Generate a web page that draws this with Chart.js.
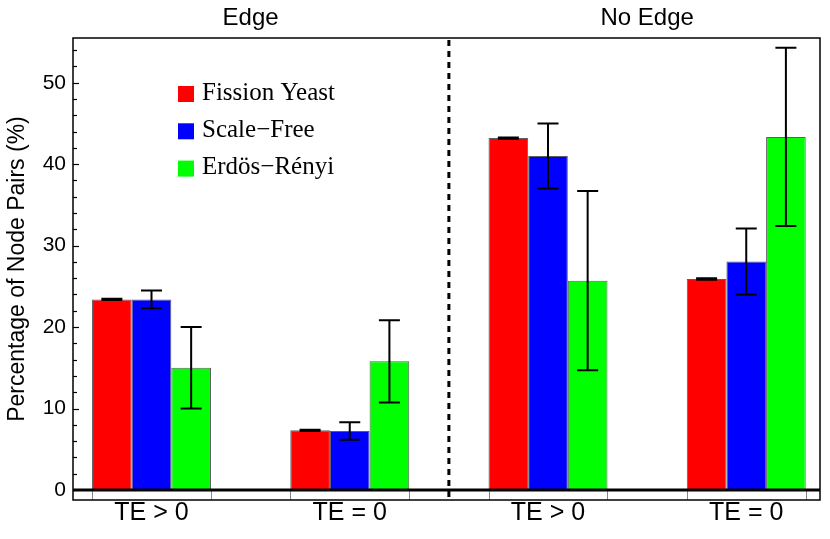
<!DOCTYPE html>
<html>
<head>
<meta charset="utf-8">
<script src="https://cdn.jsdelivr.net/npm/chart.js@4/dist/chart.umd.min.js"></script>
<style>
  html, body { margin: 0; padding: 0; background: #ffffff; }
  #wrap { width: 830px; height: 539px; }
</style>
</head>
<body>
<div id="wrap"><canvas id="c" width="830" height="539"></canvas></div>
<script>
// ---- Data ----
const categories = ['TE > 0', 'TE = 0', 'TE > 0', 'TE = 0'];
const sectionTitles = ['Edge', 'No Edge'];
const seriesNames = ['Fission Yeast', 'Scale\u2212Free', 'Erd\u00f6s\u2212R\u00e9nyi'];
const fissionYeast = [23.4, 7.32, 43.2, 25.9];
const scaleFree = [23.4, 7.25, 41.0, 28.05];
const erdosRenyi = [15.0, 15.8, 25.7, 43.35];
const fissionYeastErr = [0.08, 0.08, 0.08, 0.08];
const scaleFreeErr = [1.1, 1.08, 4.0, 4.05];
const erdosRenyiErr = [5.0, 5.05, 11.0, 10.95];
const yTickValues = [0, 10, 20, 30, 40, 50];
const yAxisTitle = 'Percentage of Node Pairs (%)';

const seriesValues = [fissionYeast, scaleFree, erdosRenyi];
const seriesErrors = [fissionYeastErr, scaleFreeErr, erdosRenyiErr];
const seriesColors = ['#ff0000', '#0000ff', '#00ff00'];

const datasets = seriesValues.map((vals, s) => ({
  label: seriesNames[s],
  data: vals.map((v, i) => ({ x: i + 1, y: v })),
  errors: seriesErrors[s],
  backgroundColor: seriesColors[s],
  borderColor: 'rgba(40,40,40,0.75)',
  borderWidth: 1,
  categoryPercentage: 0.6,
  barPercentage: 1.0
}));

const SANS = '"Liberation Sans", Arial, Helvetica, sans-serif';
const SERIF = '"Liberation Serif", "Times New Roman", serif';

const decorPlugin = {
  id: 'decor',
  afterDatasetsDraw(chart) {
    const ctx = chart.ctx;
    const xS = chart.scales.x, yS = chart.scales.y;
    const area = chart.chartArea;
    ctx.save();
    // error bars
    ctx.strokeStyle = '#000';
    ctx.lineWidth = 2;
    chart.data.datasets.forEach((ds, d) => {
      const meta = chart.getDatasetMeta(d);
      meta.data.forEach((bar, i) => {
        const v = ds.data[i].y, e = ds.errors[i];
        const yt = yS.getPixelForValue(v + e);
        const yb = yS.getPixelForValue(v - e);
        const cx = bar.x, hw = 10.5;
        ctx.beginPath();
        ctx.moveTo(cx, yt); ctx.lineTo(cx, yb);
        ctx.moveTo(cx - hw, yt); ctx.lineTo(cx + hw, yt);
        ctx.moveTo(cx - hw, yb); ctx.lineTo(cx + hw, yb);
        ctx.stroke();
      });
    });
    // group edge ticks between zero line and frame bottom
    const y0 = yS.getPixelForValue(0);
    const firstMeta = chart.getDatasetMeta(0);
    const lastMeta = chart.getDatasetMeta(chart.data.datasets.length - 1);
    ctx.strokeStyle = '#888';
    ctx.lineWidth = 1;
    firstMeta.data.forEach((bar, i) => {
      const l = bar.x - bar.width / 2;
      const r = lastMeta.data[i].x + lastMeta.data[i].width / 2;
      [l, r].forEach(px => {
        ctx.beginPath();
        ctx.moveTo(Math.round(px) + 0.5, y0);
        ctx.lineTo(Math.round(px) + 0.5, area.bottom);
        ctx.stroke();
      });
    });
    // zero line
    ctx.strokeStyle = '#000';
    ctx.lineWidth = 3;
    ctx.beginPath();
    ctx.moveTo(area.left, y0); ctx.lineTo(area.right, y0);
    ctx.stroke();
    // dashed separator
    const xm = xS.getPixelForValue((categories.length + 1) / 2);
    ctx.lineWidth = 3;
    ctx.setLineDash([6, 5]);
    ctx.beginPath();
    ctx.moveTo(xm, area.top + 2); ctx.lineTo(xm, area.bottom);
    ctx.stroke();
    ctx.setLineDash([]);
    // y ticks (inward)
    ctx.lineWidth = 1.2;
    for (let v = 0; v <= yS.max; v += 2) {
      const py = Math.round(yS.getPixelForValue(v)) + 0.5;
      const len = (v % 10 === 0) ? 6 : 4;
      ctx.beginPath();
      ctx.moveTo(area.left, py); ctx.lineTo(area.left + len, py);
      ctx.stroke();
    }
    // frame
    ctx.lineWidth = 1.5;
    ctx.strokeStyle = '#000';
    ctx.strokeRect(area.left, area.top, area.right - area.left, area.bottom - area.top);
    // section titles
    ctx.fillStyle = '#000';
    ctx.font = '24px ' + SANS;
    ctx.textAlign = 'center';
    ctx.textBaseline = 'alphabetic';
    sectionTitles.forEach((t, k) => {
      const cx = (xS.getPixelForValue(2 * k + 1) + xS.getPixelForValue(2 * k + 2)) / 2;
      ctx.fillText(t, cx, 25);
    });
    // legend
    ctx.textAlign = 'left';
    ctx.textBaseline = 'middle';
    ctx.font = '25px ' + SERIF;
    chart.data.datasets.forEach((ds, d) => {
      const rowY = area.top + 56 + d * 37.3;
      const sx = area.left + 105;
      ctx.fillStyle = ds.backgroundColor;
      ctx.fillRect(sx, rowY - 8, 16, 16);
      ctx.fillStyle = '#000';
      ctx.fillText(ds.label, sx + 24, rowY - 1);
    });
    ctx.restore();
  }
};

new Chart(document.getElementById('c'), {
  type: 'bar',
  data: { datasets },
  options: {
    responsive: false,
    animation: false,
    devicePixelRatio: 1,
    layout: { padding: { top: 38, right: 10, left: 0, bottom: 0 } },
    plugins: { legend: { display: false }, tooltip: { enabled: false } },
    scales: {
      x: {
        type: 'linear',
        offset: false,
        min: 0.604,
        max: 4.372,
        grid: { display: false, drawTicks: false },
        border: { display: false },
        afterBuildTicks: (scale) => { scale.ticks = categories.map((_, i) => ({ value: i + 1 })); },
        afterFit: (scale) => { scale.height = 39; },
        ticks: {
          autoSkip: false,
          maxRotation: 0,
          padding: 1,
          color: '#000',
          font: { family: SANS, size: 25, lineHeight: 1 },
          callback: (v) => categories[Math.round(v) - 1]
        }
      },
      y: {
        type: 'linear',
        min: -1.23,
        max: 55.49,
        grid: { display: false, drawTicks: false },
        border: { display: false },
        afterBuildTicks: (scale) => { scale.ticks = yTickValues.map(v => ({ value: v })); },
        afterFit: (scale) => { scale.width = 73; },
        ticks: {
          padding: 7,
          color: '#000',
          font: { family: SANS, size: 21 }
        },
        title: {
          display: true,
          text: yAxisTitle,
          color: '#000',
          font: { family: SANS, size: 23 },
          padding: { top: 4, bottom: 0 }
        }
      }
    }
  },
  plugins: [decorPlugin]
});
</script>
</body>
</html>
